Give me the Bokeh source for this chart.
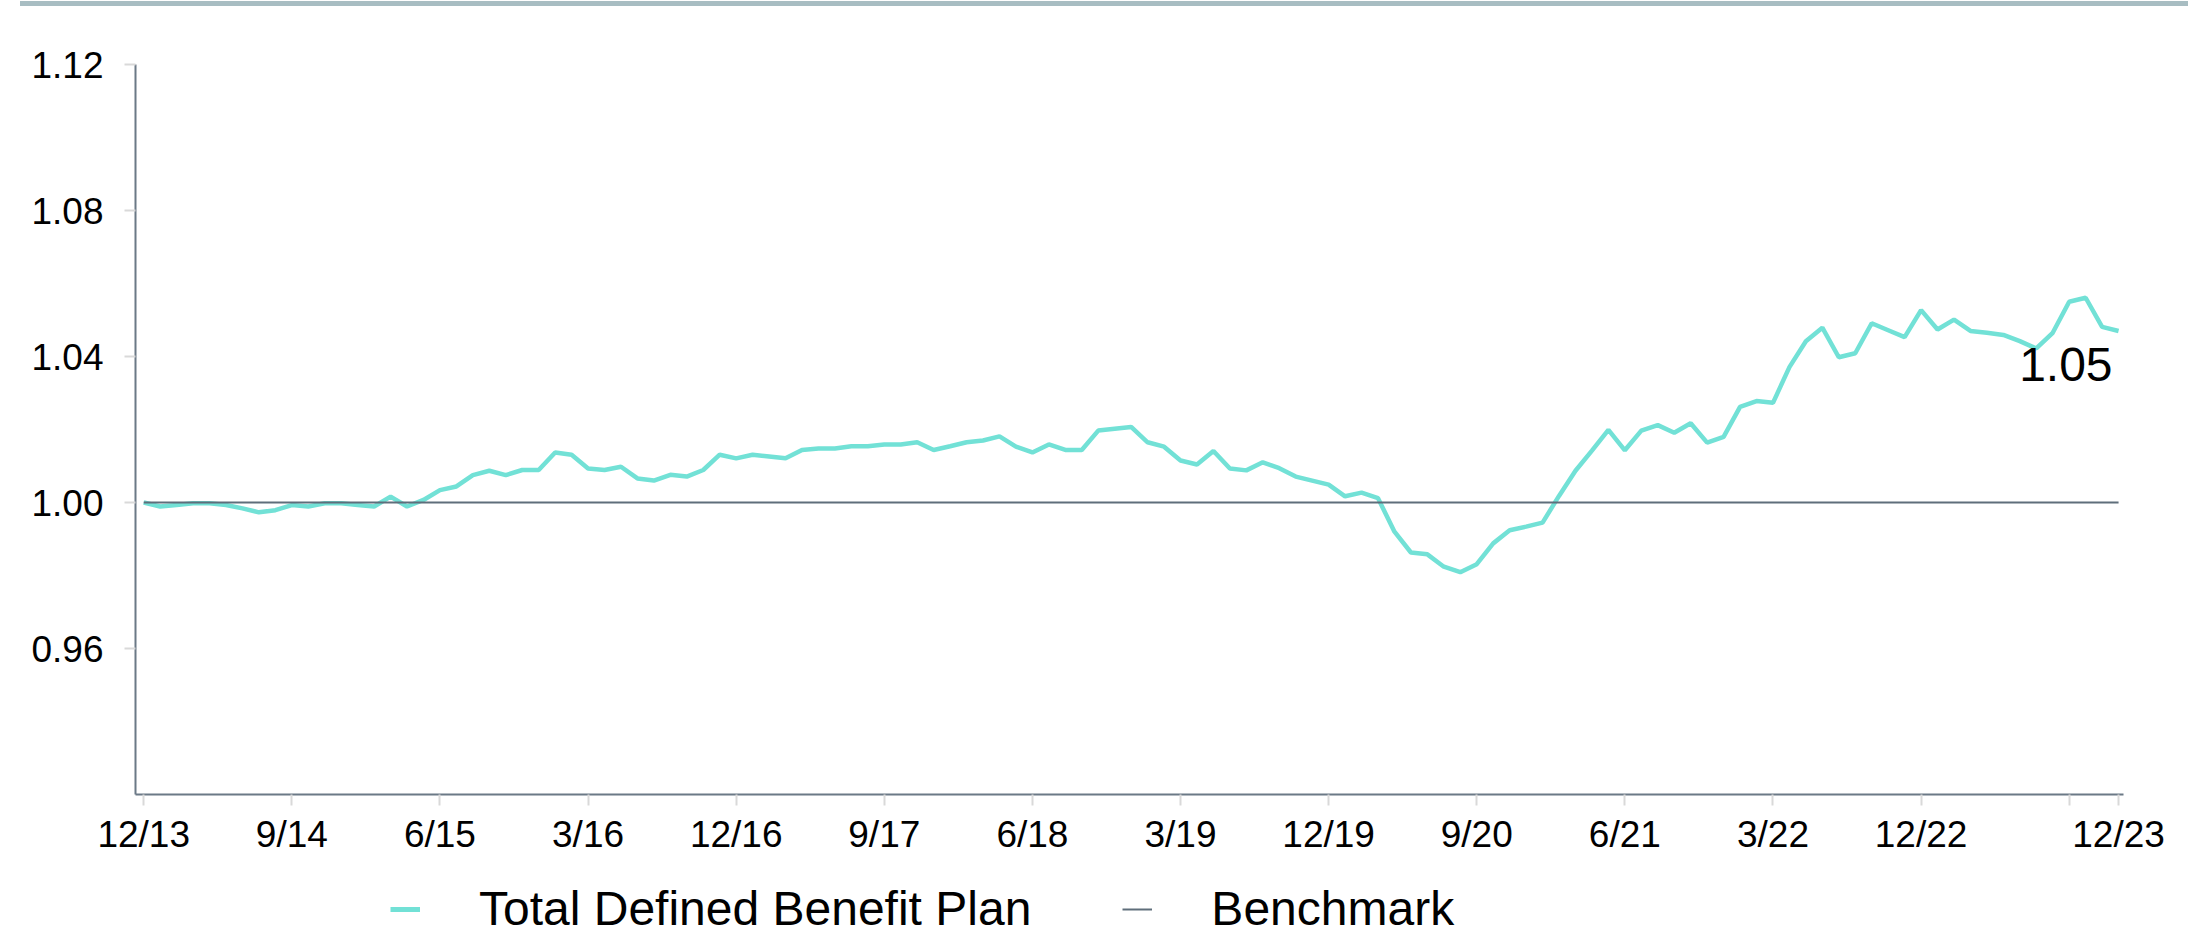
import pandas as pd
from bokeh.plotting import figure
from bokeh.models import Legend, LegendItem, FixedTicker, Label, Range1d, ColumnDataSource, PrintfTickFormatter, Div, Spacer
from bokeh.layouts import column, row
from bokeh.embed import file_html
from bokeh.resources import INLINE

# ---------------- data ----------------
months = [f"{d.month}/{d.year % 100:02d}" for d in pd.date_range("2013-12-31", periods=121, freq="ME")]

plan_values = [
    1.0000, 0.9989, 0.9993, 0.9998, 0.9998, 0.9993, 0.9984, 0.9973, 0.9979, 0.9993,
    0.9989, 0.9998, 0.9998, 0.9993, 0.9989, 1.0016, 0.9989, 1.0007, 1.0034, 1.0044,
    1.0075, 1.0087, 1.0075, 1.0089, 1.0089, 1.0137, 1.0131, 1.0093, 1.0089, 1.0098,
    1.0066, 1.0060, 1.0076, 1.0071, 1.0089, 1.0131, 1.0121, 1.0131, 1.0126, 1.0121,
    1.0144, 1.0148, 1.0148, 1.0154, 1.0154, 1.0159, 1.0159, 1.0165, 1.0144, 1.0154,
    1.0165, 1.0170, 1.0181, 1.0153, 1.0137, 1.0159, 1.0144, 1.0144, 1.0197, 1.0202,
    1.0207, 1.0165, 1.0153, 1.0115, 1.0104, 1.0141, 1.0093, 1.0088, 1.0110, 1.0094,
    1.0071, 1.0060, 1.0049, 1.0017, 1.0027, 1.0012, 0.9920, 0.9863, 0.9858, 0.9824,
    0.9809, 0.9831, 0.9888, 0.9924, 0.9934, 0.9945, 1.0018, 1.0087, 1.0142, 1.0199,
    1.0143, 1.0197, 1.0212, 1.0191, 1.0217, 1.0164, 1.0180, 1.0262, 1.0278, 1.0273,
    1.0371, 1.0442, 1.0479, 1.0398, 1.0409, 1.0491, 1.0472, 1.0453, 1.0527, 1.0474,
    1.0501, 1.0470, 1.0465, 1.0459, 1.0442, 1.0422, 1.0465, 1.0550, 1.0561, 1.0481,
    1.0470,
]
benchmark_values = [1.00] * len(months)

x_tick_months = ["12/13", "9/14", "6/15", "3/16", "12/16", "9/17", "6/18", "3/19",
                 "12/19", "9/20", "6/21", "3/22", "12/22", "9/23", "12/23"]
x_tick_labels = ["12/13", "9/14", "6/15", "3/16", "12/16", "9/17", "6/18", "3/19",
                 "12/19", "9/20", "6/21", "3/22", "12/22", "", "12/23"]
y_ticks = [0.96, 1.00, 1.04, 1.08, 1.12]
series_names = ["Total Defined Benefit Plan", "Benchmark"]

# ---------------- styles ----------------
FONT = "Liberation Sans"
PLAN_COLOR = "#72e1d6"
BENCH_COLOR = "#5f6e7b"
AXIS_COLOR = "#6b7986"
TICK_COLOR = "#d9d9d9"
BAND_COLOR = "#a8bdc2"
W = 2180

idx = list(range(len(months)))
src = ColumnDataSource(dict(x=idx, plan=plan_values, bench=benchmark_values))

# top decorative band
band = Div(text="", width=W - 12, height=5,
           styles={"background-color": BAND_COLOR, "transform": "translateY(-4px)"})
band_row = row(Spacer(width=15, height=5), band, spacing=0)

# main chart
p = figure(width=W, height=850, toolbar_location=None, output_backend="svg",
           x_range=Range1d(-0.5, 120.3), y_range=Range1d(0.92, 1.12),
           min_border_left=135, min_border_right=57, min_border_top=49, min_border_bottom=71,
           outline_line_color=None, background_fill_color="white", border_fill_color="white")
p.grid.visible = False

r_plan = p.line("x", "plan", source=src, line_color=PLAN_COLOR, line_width=4.5)
r_bench = p.line("x", "bench", source=src, line_color=BENCH_COLOR, line_width=2)

tick_pos = [months.index(m) for m in x_tick_months]
p.xaxis.ticker = FixedTicker(ticks=tick_pos)
p.xaxis.major_label_overrides = {t: lab for t, lab in zip(tick_pos, x_tick_labels)}
p.yaxis.ticker = FixedTicker(ticks=y_ticks)
p.yaxis.formatter = PrintfTickFormatter(format="%.2f")

for ax in (p.xaxis, p.yaxis):
    ax.axis_line_color = AXIS_COLOR
    ax.axis_line_width = 2
    ax.major_tick_line_color = TICK_COLOR
    ax.major_tick_line_width = 2
    ax.major_tick_out = 11
    ax.major_tick_in = 0
    ax.minor_tick_out = 0
    ax.minor_tick_in = 0
    ax.major_label_text_font = FONT
    ax.major_label_text_font_size = "37px"
    ax.major_label_text_color = "black"
p.xaxis.major_label_standoff = 8
p.yaxis.major_label_standoff = 21

last_val = plan_values[-1]
p.add_layout(Label(x=idx[-1], y=last_val, text=f"{last_val:.2f}", text_align="right",
                   text_baseline="alphabetic", x_offset=-6, y_offset=-34,
                   text_font=FONT, text_font_size="48px", text_color="black"))

# legend strip: keys use the same series and styles (series lie outside its view)
lg = figure(width=W, height=78, toolbar_location=None, output_backend="svg",
            x_range=Range1d(0, 1), y_range=Range1d(10, 11), min_border=0,
            outline_line_color=None, background_fill_color="white", border_fill_color="white")
lg.axis.visible = False
lg.grid.visible = False
k_plan = lg.line("x", "plan", source=src, line_color=PLAN_COLOR, line_width=5)
k_bench = lg.line("x", "bench", source=src, line_color=BENCH_COLOR, line_width=2)
legend = Legend(items=[LegendItem(label=series_names[0], renderers=[k_plan]),
                       LegendItem(label=series_names[1], renderers=[k_bench])],
                orientation="horizontal", location=(255, 7),
                glyph_width=30, glyph_height=20, label_standoff=59, spacing=91,
                padding=0, margin=0, border_line_color=None, background_fill_alpha=0,
                label_text_font=FONT, label_text_font_size="48px", label_text_color="black")
lg.add_layout(legend, "center")

layout = column(band_row, p, lg, spacing=0)
open("out.html", "w").write(file_html(layout, INLINE))
